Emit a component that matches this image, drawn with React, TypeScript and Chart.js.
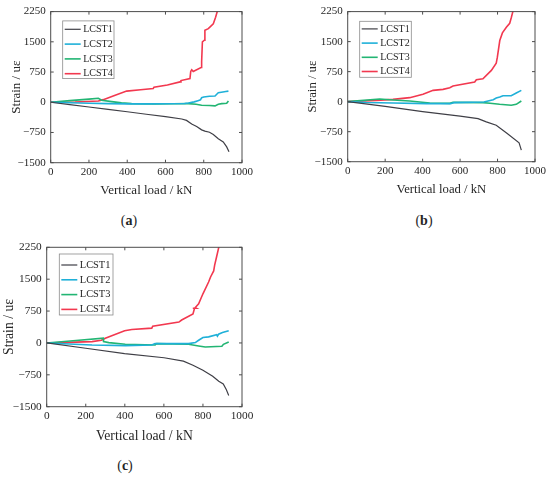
import React, { useEffect, useRef } from "react";
import { Chart, registerables } from "chart.js";

Chart.register(...registerables);

// axis ticks
const loadTicks = [0, 200, 400, 600, 800, 1000];
const strainTicks = [-1500, -750, 0, 750, 1500, 2250];
const gaugeNames = ["LCST1", "LCST2", "LCST3", "LCST4"];
const gaugeColors = ["#3f3f46", "#1fb0d8", "#22b573", "#f2384f"];
const gaugeWidths = [1.2, 1.6, 1.6, 1.6];

// (a) [vertical load kN, strain uε]
const aLCST1 = [[0, 0], [100, -58], [200, -118], [300, -178], [400, -236], [500, -298], [600, -358], [685, -416], [710, -450], [737, -538], [763, -603], [789, -685], [806, -717], [830, -745], [850, -799], [876, -905], [902, -986], [920, -1108], [932, -1231]];
const aLCST2 = [[0, 0], [100, -12], [200, -25], [300, -35], [400, -40], [500, -40], [600, -36], [700, -30], [720, -20], [750, 10], [770, 40], [783, 60], [789, 114], [800, 130], [830, 150], [859, 155], [868, 200], [876, 236], [900, 255], [915, 268], [929, 277]];
const aLCST3 = [[0, 0], [100, 40], [200, 78], [249, 98], [266, 49], [319, 16], [370, -15], [423, -33], [545, -41], [640, -36], [720, -33], [760, -50], [789, -73], [830, -82], [859, -90], [876, -49], [894, -33], [920, -24], [929, 33]];
const aLCST4 = [[0, 0], [127, 8], [249, 33], [275, 65], [330, 160], [397, 277], [470, 310], [536, 342], [540, 375], [610, 430], [676, 505], [681, 538], [728, 587], [732, 766], [737, 807], [745, 766], [786, 864], [789, 1010], [793, 1500], [803, 1540], [806, 1785], [824, 1826], [850, 1948], [862, 2111], [872, 2274], [880, 2450]];

// (b)
const bLCST1 = [[0, 0], [200, -120], [400, -248], [600, -362], [696, -423], [740, -506], [793, -589], [850, -790], [915, -1029], [927, -1212]];
const bLCST2 = [[0, 0], [100, -20], [242, -33], [420, -50], [549, -50], [567, -25], [727, -8], [777, 50], [793, 91], [812, 116], [829, 149], [873, 149], [900, 216], [927, 282]];
const bLCST3 = [[0, 0], [171, 66], [242, 42], [331, 17], [438, -33], [545, -42], [562, -17], [722, -25], [760, -40], [811, -66], [873, -91], [900, -66], [927, 17]];
const bLCST4 = [[0, 0], [153, 33], [242, 58], [331, 100], [402, 183], [456, 282], [509, 307], [545, 349], [562, 390], [678, 490], [687, 548], [722, 573], [767, 780], [793, 963], [799, 1112], [812, 1527], [826, 1718], [847, 1859], [865, 1959], [874, 2108], [883, 2274], [890, 2450]];

// (c)
const cLCST1 = [[0, 0], [200, -125], [399, -253], [601, -348], [700, -428], [749, -523], [800, -642], [850, -784], [881, -903], [904, -966], [920, -1101], [932, -1236]];
const cLCST2 = [[0, 0], [232, -48], [403, -63], [538, -48], [555, -16], [726, -16], [761, 8], [778, 63], [800, 127], [829, 143], [870, 195], [874, 160], [880, 205], [900, 245], [932, 285]];
const cLCST3 = [[0, 0], [150, 57], [290, 111], [291, 32], [318, 8], [402, -32], [555, -48], [563, -16], [726, -32], [778, -71], [812, -95], [897, -79], [905, -32], [932, 24]];
const cLCST4 = [[0, 0], [150, 20], [232, 32], [280, 63], [300, 111], [399, 285], [436, 317], [538, 348], [543, 396], [677, 491], [691, 539], [749, 681], [757, 816], [748, 816], [766, 816], [760, 830], [778, 919], [800, 1156], [829, 1434], [839, 1552], [855, 1695], [860, 1830], [870, 2028], [881, 2249], [886, 2450]];

const FONT = '"Liberation Serif", "Times New Roman", serif';
const INK = "#262626";

type Panel = {
  tag: string;
  left: number; top: number; w: number; h: number;
  padTop: number; padRight: number; yAxisW: number; xAxisH: number;
  tickSize: number; titleSize: number;
  xTitlePad: number; yTitlePad: number;
  legend: { dx: number; dy: number; w: number; h: number; row0: number; gap: number; size: number };
  series: number[][][];
  labelX: number; labelY: number;
};

const panels: Panel[] = [
  {
    tag: "a", left: 0, top: 0, w: 270, h: 205,
    padTop: 9, padRight: 28, yAxisW: 50.7, xAxisH: 42.3,
    tickSize: 11, titleSize: 13, xTitlePad: 6.2, yTitlePad: 8.7,
    legend: { dx: 12, dy: 9.3, w: 51.3, h: 57.7, row0: 8.4, gap: 14.8, size: 10 },
    series: [aLCST1, aLCST2, aLCST3, aLCST4],
    labelX: 129, labelY: 221,
  },
  {
    tag: "b", left: 297, top: 0, w: 253, h: 205,
    padTop: 11, padRight: 15, yAxisW: 50.7, xAxisH: 43.3,
    tickSize: 11, titleSize: 12.7, xTitlePad: 7.4, yTitlePad: 8.4,
    legend: { dx: 12, dy: 9.7, w: 51.6, h: 56, row0: 7.6, gap: 14.2, size: 10 },
    series: [bLCST1, bLCST2, bLCST3, bLCST4],
    labelX: 424, labelY: 221,
  },
  {
    tag: "c", left: 0, top: 235, w: 270, h: 215,
    padTop: 12.3, padRight: 28, yAxisW: 46.7, xAxisH: 43.3,
    tickSize: 11.3, titleSize: 13.7, xTitlePad: 5.8, yTitlePad: 1.3,
    legend: { dx: 12.6, dy: 6.7, w: 53.7, h: 61, row0: 11, gap: 14.8, size: 10.4 },
    series: [cLCST1, cLCST2, cLCST3, cLCST4],
    labelX: 125, labelY: 466,
  },
];

const fmt = (v: number | string) => String(v).replace("-", "\u2212");

function decor(p: Panel) {
  return {
    id: "decor",
    afterDatasetsDraw(chart: any) {
      const { ctx, chartArea: a } = chart;
      const xs = chart.scales.x;
      const ys = chart.scales.y;
      ctx.save();
      // frame with inward ticks
      ctx.strokeStyle = "#4d4d4d";
      ctx.lineWidth = 1;
      ctx.strokeRect(a.left, a.top, a.right - a.left, a.bottom - a.top);
      ctx.beginPath();
      loadTicks.forEach((v) => {
        const px = xs.getPixelForValue(v);
        ctx.moveTo(px, a.bottom); ctx.lineTo(px, a.bottom - 3);
        ctx.moveTo(px, a.top); ctx.lineTo(px, a.top + 3);
      });
      strainTicks.forEach((v) => {
        const py = ys.getPixelForValue(v);
        ctx.moveTo(a.left, py); ctx.lineTo(a.left + 3, py);
        ctx.moveTo(a.right, py); ctx.lineTo(a.right - 3, py);
      });
      ctx.stroke();

      // boxed legend
      const lg = p.legend;
      const bx = a.left + lg.dx;
      const by = a.top + lg.dy;
      ctx.fillStyle = "#fff";
      ctx.fillRect(bx, by, lg.w, lg.h);
      ctx.strokeStyle = "#8c8c8c";
      ctx.lineWidth = 0.8;
      ctx.strokeRect(bx, by, lg.w, lg.h);
      ctx.font = `${lg.size}px ${FONT}`;
      ctx.textBaseline = "middle";
      ctx.textAlign = "left";
      chart.data.datasets.forEach((ds: any, i: number) => {
        const ry = by + lg.row0 + i * lg.gap;
        ctx.strokeStyle = ds.borderColor;
        ctx.lineWidth = ds.borderWidth;
        ctx.beginPath();
        ctx.moveTo(bx + 2, ry);
        ctx.lineTo(bx + 18, ry);
        ctx.stroke();
        ctx.fillStyle = INK;
        ctx.fillText(ds.label, bx + 20.5, ry);
      });
      ctx.restore();
    },
  };
}

function StrainPanel({ p }: { p: Panel }) {
  const canvasRef = useRef<HTMLCanvasElement>(null);

  useEffect(() => {
    if (!canvasRef.current) return;
    const tickFont = { family: FONT, size: p.tickSize };
    const titleFont = { family: FONT, size: p.titleSize, lineHeight: 1.2 };
    const chart = new Chart(canvasRef.current, {
      type: "line",
      data: {
        datasets: p.series.map((pts, i) => ({
          label: gaugeNames[i],
          data: pts.map(([x, y]) => ({ x, y })),
          borderColor: gaugeColors[i],
          borderWidth: gaugeWidths[i],
          pointRadius: 0,
          tension: 0,
          fill: false,
        })),
      },
      options: {
        animation: false,
        responsive: false,
        maintainAspectRatio: false,
        events: [],
        layout: { padding: { left: 0, top: p.padTop, right: p.padRight, bottom: 0 } },
        plugins: { legend: { display: false }, tooltip: { enabled: false } },
        scales: {
          x: {
            type: "linear",
            min: 0,
            max: 1000,
            grid: { display: false, drawTicks: false },
            border: { display: false },
            ticks: { font: tickFont, color: INK, padding: 3, autoSkip: false, maxRotation: 0, callback: (v: any) => fmt(v) },
            title: { display: true, text: "Vertical load / kN", font: titleFont, color: INK, padding: { top: 0, bottom: p.xTitlePad } },
            afterBuildTicks: (s: any) => { s.ticks = loadTicks.map((value) => ({ value })); },
            afterFit: (s: any) => { s.height = p.xAxisH; },
          },
          y: {
            type: "linear",
            min: -1500,
            max: 2250,
            grid: { display: false, drawTicks: false },
            border: { display: false },
            ticks: { font: tickFont, color: INK, padding: 5, autoSkip: false, callback: (v: any) => fmt(v) },
            title: { display: true, text: "Strain / uε", font: titleFont, color: INK, padding: { top: p.yTitlePad, bottom: 0 } },
            afterBuildTicks: (s: any) => { s.ticks = strainTicks.map((value) => ({ value })); },
            afterFit: (s: any) => { s.width = p.yAxisW; },
          },
        },
      } as any,
      plugins: [decor(p)],
    });
    return () => chart.destroy();
  }, [p]);

  return (
    <canvas
      ref={canvasRef}
      width={p.w}
      height={p.h}
      style={{ position: "absolute", left: p.left, top: p.top, width: p.w, height: p.h }}
    />
  );
}

export default function App() {
  return (
    <div style={{ position: "absolute", left: 0, top: 0, width: 550, height: 477, background: "#fff", overflow: "hidden" }}>
      {panels.map((p) => (
        <React.Fragment key={p.tag}>
          <StrainPanel p={p} />
          <div
            style={{
              position: "absolute",
              left: p.labelX - 20,
              top: p.labelY - 8,
              width: 40,
              lineHeight: "16px",
              textAlign: "center",
              fontFamily: FONT,
              fontSize: 14,
              color: INK,
            }}
          >
            (<b>{p.tag}</b>)
          </div>
        </React.Fragment>
      ))}
    </div>
  );
}
